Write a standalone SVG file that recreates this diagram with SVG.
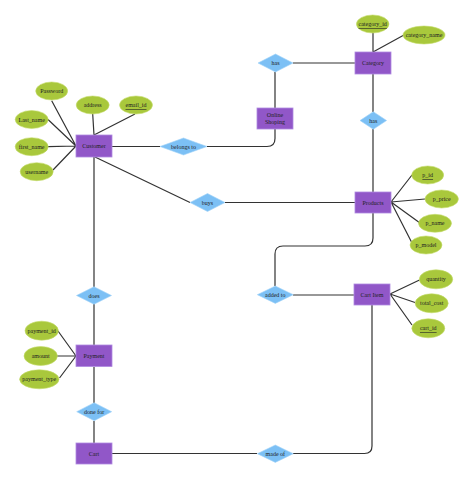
<svg xmlns="http://www.w3.org/2000/svg" width="474" height="480" viewBox="0 0 474 480">
<style>
.ent{fill:#9157c8;stroke:#b08ae0;stroke-width:0.8}
.att{fill:#a9c83c;stroke:#c4dc6a;stroke-width:0.6}
.rel{fill:#7cc0f5;stroke:#a3d3f8;stroke-width:0.6}
text{font-family:"Liberation Serif","Times New Roman",serif;font-size:6px;fill:#222;text-anchor:middle;dominant-baseline:central}
.u{text-decoration:underline}
.c{fill:none;stroke:#333;stroke-width:1.2}
</style>
<rect width="474" height="480" fill="#fff"/>
<g id="connectors">
<path class="c" d="M51.7,100.7L76,146M48,119.5L76,146M48,146.7L76,146M53,170L76,146M92.7,114L94,135M135,114L94,135"/>
<path class="c" d="M112,146.5H160M207,146.5H267Q275,146.5 275,138.5V129"/>
<path class="c" d="M275,72V108M293,63H355M373,33V52M404,35L373,52M373,74V112M373,129V192"/>
<path class="c" d="M95,157L190,202.5M225,202.5H355"/>
<path class="c" d="M391,202L412,175M391,202L425,199M391,202L420,223M391,202L412,243"/>
<path class="c" d="M373,213V238Q373,246 365,246H283Q275,246 275,254V286M293,295H354"/>
<path class="c" d="M390,294L419.5,280M390,294L415,302.5M390,294L412,325"/>
<path class="c" d="M372,305V446Q372,453.5 364.5,453.5H293M257,453.5H112"/>
<path class="c" d="M94,157V287M94,304V345M94,367V403M94,421V443"/>
<path class="c" d="M58,331L76,356M57,356H76M59.5,378L76,356"/>
</g>
<g id="customer"><rect class="ent" x="76" y="135" width="36" height="22"/><text x="94" y="146">Customer</text></g>
<g id="password"><ellipse class="att" cx="51.7" cy="91" rx="16" ry="9"/><text x="51.7" y="91">Password</text></g>
<g id="address"><ellipse class="att" cx="92.7" cy="105" rx="16.5" ry="9"/><text x="92.7" y="105">address</text></g>
<g id="email_id"><ellipse class="att" cx="136" cy="105" rx="16.5" ry="9"/><text class="u" x="136" y="105">email_id</text></g>
<g id="last_name"><ellipse class="att" cx="31.7" cy="119.5" rx="16.5" ry="9"/><text x="31.7" y="119.5">Last_name</text></g>
<g id="first_name"><ellipse class="att" cx="31.7" cy="146.7" rx="16.5" ry="9"/><text x="31.7" y="146.7">first_name</text></g>
<g id="username"><ellipse class="att" cx="36.7" cy="171.7" rx="16.5" ry="9"/><text x="36.7" y="171.7">username</text></g>
<g id="belongs_to"><polygon class="rel" points="160,146.5 183.5,138 207,146.5 183.5,155"/><text x="183.5" y="146.5">belongs to</text></g>
<g id="online_shoping"><rect class="ent" x="257" y="108" width="36" height="21"/><text x="275" y="115">Online</text><text x="275" y="122">Shoping</text></g>
<g id="has1"><polygon class="rel" points="258,63 275.5,54 293,63 275.5,72"/><text x="275.5" y="63">has</text></g>
<g id="category"><rect class="ent" x="355" y="52" width="36" height="22"/><text x="373" y="63">Category</text></g>
<g id="category_id"><ellipse class="att" cx="372.7" cy="24" rx="16.3" ry="9"/><text class="u" x="372.7" y="24">category_id</text></g>
<g id="category_name"><ellipse class="att" cx="424" cy="35" rx="21" ry="9"/><text x="424" y="35">category_name</text></g>
<g id="has2"><polygon class="rel" points="360,120.5 373.3,111.7 386.6,120.5 373.3,129.3"/><text x="373.3" y="120.5">has</text></g>
<g id="products"><rect class="ent" x="355" y="192" width="36" height="21"/><text x="373" y="202.5">Products</text></g>
<g id="buys"><polygon class="rel" points="190,202.5 207.5,193.5 225,202.5 207.5,211.5"/><text x="207.5" y="202.5">buys</text></g>
<g id="p_id"><ellipse class="att" cx="427.7" cy="175" rx="16" ry="9"/><text class="u" x="427.7" y="175">p_id</text></g>
<g id="p_price"><ellipse class="att" cx="441.7" cy="199" rx="16.7" ry="9"/><text x="441.7" y="199">p_price</text></g>
<g id="p_name"><ellipse class="att" cx="435" cy="223.3" rx="16.5" ry="9"/><text x="435" y="223.3">p_name</text></g>
<g id="p_model"><ellipse class="att" cx="426" cy="245" rx="16" ry="9"/><text x="426" y="245">p_model</text></g>
<g id="added_to"><polygon class="rel" points="257.3,294.7 275.3,286 293.3,294.7 275.3,303.4"/><text x="275.3" y="294.7">added to</text></g>
<g id="cart_item"><rect class="ent" x="354" y="284" width="36" height="21"/><text x="372" y="294.5">Cart Item</text></g>
<g id="quantity"><ellipse class="att" cx="436" cy="279.3" rx="16.7" ry="9.5"/><text x="436" y="279.3">quantity</text></g>
<g id="total_cost"><ellipse class="att" cx="431.7" cy="303.3" rx="16.5" ry="9.5"/><text x="431.7" y="303.3">total_cost</text></g>
<g id="cart_id"><ellipse class="att" cx="428.3" cy="328.3" rx="16.5" ry="9.5"/><text class="u" x="428.3" y="328.3">cart_id</text></g>
<g id="does"><polygon class="rel" points="76.5,295.5 94,286.7 111.5,295.5 94,304.3"/><text x="94" y="295.5">does</text></g>
<g id="payment"><rect class="ent" x="76" y="345" width="36" height="21.5"/><text x="94" y="355.7">Payment</text></g>
<g id="payment_id"><ellipse class="att" cx="41.7" cy="330.7" rx="16.7" ry="9.5"/><text x="41.7" y="330.7">payment_id</text></g>
<g id="amount"><ellipse class="att" cx="40.7" cy="356" rx="16.7" ry="9.5"/><text x="40.7" y="356">amount</text></g>
<g id="payment_type"><ellipse class="att" cx="39.3" cy="379.3" rx="19.7" ry="9.5"/><text x="39.3" y="379.3">payment_type</text></g>
<g id="done_for"><polygon class="rel" points="76.7,411.7 94.2,402.7 111.7,411.7 94.2,420.7"/><text x="94.2" y="411.7">done for</text></g>
<g id="cart"><rect class="ent" x="76" y="443" width="36" height="21"/><text x="94" y="453.5">Cart</text></g>
<g id="made_of"><polygon class="rel" points="257.3,453.7 275.3,445 293.3,453.7 275.3,462.4"/><text x="275.3" y="453.7">made of</text></g>
</svg>
